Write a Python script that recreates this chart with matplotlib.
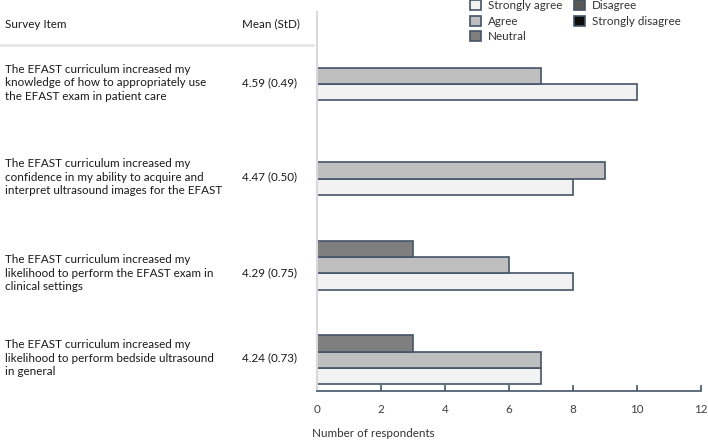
import matplotlib.pyplot as plt
from matplotlib.patches import Patch
from matplotlib.lines import Line2D
import numpy as np

plt.rcParams['font.family'] = ['Lato', 'DejaVu Sans']

items = [
    'The EFAST curriculum increased my\nknowledge of how to appropriately use\nthe EFAST exam in patient care',
    'The EFAST curriculum increased my\nconfidence in my ability to acquire and\ninterpret ultrasound images for the EFAST',
    'The EFAST curriculum increased my\nlikelihood to perform the EFAST exam in\nclinical settings',
    'The EFAST curriculum increased my\nlikelihood to perform bedside ultrasound\nin general',
]
means = ['4.59 (0.49)', '4.47 (0.50)', '4.29 (0.75)', '4.24 (0.73)']

categories = ['Strongly agree', 'Agree', 'Neutral', 'Disagree', 'Strongly disagree']
strongly_agree = [10, 8, 8, 7]
agree = [7, 9, 6, 7]
neutral = [0, 0, 3, 3]
disagree = [0, 0, 0, 0]
strongly_disagree = [0, 0, 0, 0]
series = [strongly_agree, agree, neutral, disagree, strongly_disagree]

COLORS = ['#f2f2f2', '#bfbfbf', '#7f7f7f', '#595959', '#0d0d0d']
EDGE = '#44546a'
TEXT = '#1a1a1a'
FS = 8.4

W, H = 708, 440
fig = plt.figure(figsize=(W / 100, H / 100), dpi=100)
ax = fig.add_axes([316.7 / W, 1 - 391 / H, (701 - 316.7) / W, (391 - 12) / H])

y = np.arange(len(items))
h = 16.3 / 94.75
for k, vals in enumerate(series):
    # slot 4 = strongly agree at bottom of group, strongly disagree at top
    offset = (2 - k) * h
    lw = [1.2 if v > 0 else 0 for v in vals]
    ax.barh(y + offset, vals, height=h, color=COLORS[k], edgecolor=EDGE, linewidth=lw, zorder=2)

ax.set_ylim(3.5, -0.5)
ax.set_xlim(0, 12)
ax.set_xticks(range(0, 13, 2))
ax.set_yticks([])
for s in ['top', 'right']:
    ax.spines[s].set_visible(False)
ax.spines['left'].set_color('#d9d9d9')
ax.spines['left'].set_linewidth(1.5)
ax.spines['bottom'].set_color(EDGE)
ax.spines['bottom'].set_linewidth(1.2)
ax.tick_params(axis='x', direction='in', length=4, width=1.2, color=EDGE,
               labelsize=FS, labelcolor='#404040', pad=9)

fig.text(312 / W, 1 - 433 / H, 'Number of respondents', ha='left', va='center',
         fontsize=FS, color='#333333')

# table on the left
fig.text(5 / W, 1 - 24 / H, 'Survey Item', ha='left', va='center', fontsize=FS, color=TEXT)
fig.text(242 / W, 1 - 24 / H, 'Mean (StD)', ha='left', va='center', fontsize=FS, color=TEXT)
fig.add_artist(Line2D([0, 313 / W], [1 - 45 / H, 1 - 45 / H], color='#e6e6e6', lw=2,
                      transform=fig.transFigure))
row_y = [83, 177, 273, 358]
for text, m, ry in zip(items, means, row_y):
    fig.text(5 / W, 1 - ry / H, text, ha='left', va='center', fontsize=FS,
             color=TEXT, linespacing=1.33)
    fig.text(242 / W, 1 - ry / H, m, ha='left', va='center', fontsize=FS, color=TEXT)

handles = [Patch(facecolor=c, edgecolor=EDGE, linewidth=1.2) for c in COLORS]
fig.legend(handles, categories, loc='upper left', bbox_to_anchor=(470 / W, 1.0),
           ncol=2, frameon=False, fontsize=FS, handlelength=0.95, handleheight=0.95,
           handletextpad=0.55, labelspacing=0.4, columnspacing=1.05, borderpad=0.0,
           borderaxespad=0.0, labelcolor='#333333')

fig.savefig('out.png', dpi=100)
